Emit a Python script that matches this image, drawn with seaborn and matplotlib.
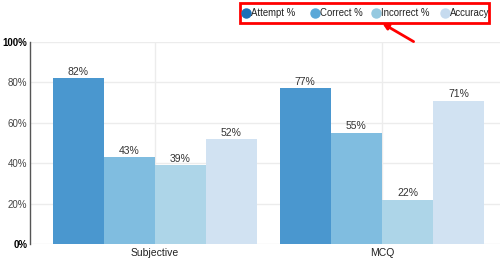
import seaborn as sns
import matplotlib.pyplot as plt
from matplotlib.lines import Line2D
from matplotlib.patches import FancyArrowPatch, Rectangle
import pandas as pd

categories = ["Subjective", "MCQ"]
series = ["Attempt %", "Correct %", "Incorrect %", "Accuracy"]
attempt = [82, 77]
correct = [43, 55]
incorrect = [39, 22]
accuracy = [52, 71]
yticks = [0, 20, 40, 60, 80, 100]

bar_colors = ["#4a97cf", "#80bde0", "#add5e8", "#d1e2f2"]
dot_colors = ["#1a6fb8", "#5aa8d8", "#95c9e0", "#c6dbef"]

df = pd.DataFrame({
    "category": categories * 4,
    "series": [s for s in series for _ in categories],
    "value": attempt + correct + incorrect + accuracy,
})

sns.set_style("white")
plt.rcParams['font.family'] = ['Liberation Sans', 'DejaVu Sans']
fig = plt.figure(figsize=(5, 2.64), dpi=100)
ax = fig.add_axes([0.06, 0.076, 0.94, 0.765])

sns.barplot(data=df, x="category", y="value", hue="series", palette=bar_colors,
            width=0.9, gap=0, saturation=1, legend=False, ax=ax, edgecolor="none")

for cont in ax.containers:
    ax.bar_label(cont, labels=[f"{int(v)}%" for v in cont.datavalues],
                 fontsize=7.5, color="#333333", padding=1)

ax.set_ylim(0, 100)
ax.set_xlim(-0.55, 1.52)
ax.set_yticks(yticks)
ax.set_yticklabels([f"{t}%" for t in yticks], fontsize=7, color="#444444")
for lbl in (ax.get_yticklabels()[0], ax.get_yticklabels()[-1]):
    lbl.set_fontweight("bold")
    lbl.set_color("black")
ax.tick_params(axis="x", labelsize=7.5, colors="#222222", length=0, pad=3)
ax.tick_params(axis="y", length=0, pad=2)
ax.set_xlabel("")
ax.set_ylabel("")
ax.grid(True, color="#ececec", linewidth=1)
ax.set_axisbelow(True)
for s in ["top", "right", "bottom"]:
    ax.spines[s].set_visible(False)
ax.spines["left"].set_color("#555555")
ax.spines["left"].set_linewidth(1)

# legend at top right
xs = [246, 315, 376, 445]
ly = 1 - 13 / 264
for x, c, s in zip(xs, dot_colors, series):
    fig.add_artist(Line2D([x / 500], [ly], marker="o", markersize=6.5, color=c,
                          linestyle="none", transform=fig.transFigure))
    fig.text((x + 5) / 500, ly, s, color="#222222", fontsize=6.9, ha="left", va="center")

# red highlight box and arrow
fig.add_artist(Rectangle((240 / 500, 1 - 23 / 264), 249 / 500, 20 / 264,
                         transform=fig.transFigure, fill=False,
                         edgecolor="red", linewidth=2))
fig.add_artist(FancyArrowPatch(
    (416 / 500, 1 - 43 / 264), (380 / 500, 1 - 22 / 264),
    transform=fig.transFigure, arrowstyle="-|>", mutation_scale=8,
    color="red", linewidth=2))

plt.savefig("out.png", dpi=100)
plt.close()
